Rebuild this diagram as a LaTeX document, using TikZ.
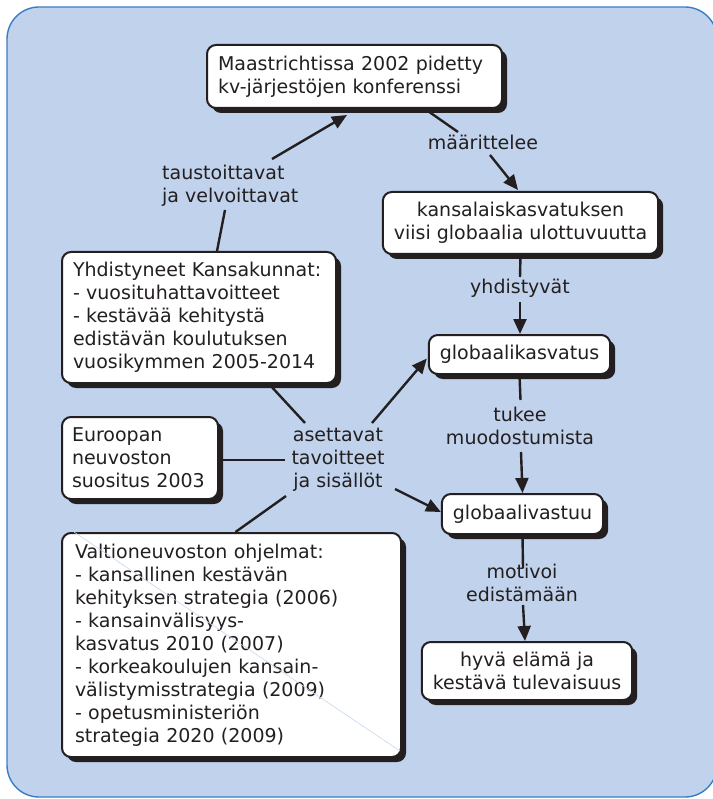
\documentclass[tikz,border=0pt]{standalone}
\usepackage{fontspec}
\setmainfont{DejaVu Sans}
\usetikzlibrary{shadows,arrows.meta}
\definecolor{ink}{HTML}{231F20}
\definecolor{panelfill}{HTML}{C1D2EC}
\definecolor{panelline}{HTML}{3B7DC4}
\definecolor{faint}{HTML}{C9D7EE}

\begin{document}
\begin{tikzpicture}[x=1pt,y=-1pt,
  every node/.style={font=\fontsize{19}{23}\selectfont, text=ink},
  box/.style={draw=ink, line width=2pt, fill=white, rounded corners=9pt,
    inner ysep=0pt, inner xsep=11pt,
    drop shadow={shadow xshift=5pt, shadow yshift=-5pt, opacity=1, fill=ink}},
  lbl/.style={inner sep=0pt, align=center},
  link/.style={draw=ink, line width=2.4pt},
  arr/.style={link, -{Triangle[length=15pt,width=13pt]}}]

\useasboundingbox (0,0) rectangle (712,799);
% background panel
\draw[panelline, fill=panelfill, line width=1.4pt, rounded corners=32pt]
  (7,7) rectangle (717,797);

% boxes
\node[box, text width=273pt, align=left, minimum height=63pt] (m) at (354.5,76.5)
  {Maastrichtissa 2002 pidetty\\kv-järjestöjen konferenssi};
\node[box, align=center, minimum width=275pt, minimum height=62pt] (k) at (520.5,223)
  {kansalaiskasvatuksen\\viisi globaalia ulottuvuutta};
\node[box, minimum width=181pt, minimum height=39pt] (gk) at (519.5,354.5)
  {globaalikasvatus};
\node[box, text width=252pt, align=left, minimum height=131pt] (yk) at (199,317.5)
  {Yhdistyneet Kansakunnat:\\- vuosituhattavoitteet\\- kestävää kehitystä\\edistävän koulutuksen\\vuosikymmen 2005-2014};
\node[box, text width=136pt, inner xsep=10pt, align=left, minimum height=82pt] (eu) at (140,458)
  {Euroopan\\neuvoston\\suositus 2003};
\node[box, minimum width=161pt, minimum height=40pt] (gv) at (522.5,514)
  {globaalivastuu};
\node[box, text width=313pt, inner xsep=13pt, align=left, minimum height=224pt] (vn) at (231.5,645)
  {Valtioneuvoston ohjelmat:\\- kansallinen kestävän\\kehityksen strategia (2006)\\- kansainvälisyys-\\kasvatus 2010 (2007)\\- korkeakoulujen kansain-\\välistymisstrategia (2009)\\- opetusministeriön\\strategia 2020 (2009)};
\node[box, align=center, minimum width=210pt, minimum height=58pt] (hy) at (527,671)
  {hyvä elämä ja\\kestävä tulevaisuus};

% thin diagonal across the programme box
\draw[faint, line width=0.6pt] ([shift={(13,0)}]vn.north west) -- ([shift={(-2,-7)}]vn.south east);

% connector labels
\node[lbl, align=left, anchor=west] (lt) at (162,186) {taustoittavat\\ja velvoittavat};
\node[lbl, anchor=base] (lm) at (483,150) {määrittelee};
\node[lbl, anchor=base] (ly) at (520,293) {yhdistyvät};
\node[lbl] (ltu) at (520,426) {tukee\\muodostumista};
\node[lbl] (lmo) at (522,583) {motivoi\\edistämään};
\node[lbl] (la) at (338,460) {asettavat\\tavoitteet\\ja sisällöt};

% connectors
\draw[arr] ([shift={(110,-27)}]lt.west) -- ([shift={(-7.5,38.5)}]m.center);
\draw[link] ([xshift=18pt]yk.north) -- ([shift={(63,24)}]lt.west);
\draw[link] ([xshift=70.5pt]m.south) -- ([shift={(-25,-18)}]lm.base);
\draw[arr] ([shift={(7,5)}]lm.base) -- ([shift={(-2.5,-1)}]k.north);
\draw[link] (k.south) -- ([shift={(0,-16)}]ly.base);
\draw[arr] ([shift={(0,9)}]ly.base) -- ([xshift=0.5pt]gk.north);
\draw[link] (gk.south) -- ([shift={(0.5,-26)}]ltu.center);
\draw[arr] ([shift={(1,26)}]ltu.center) -- (gv.north);
\draw[link] (gv.south) -- ([shift={(1,-15)}]lmo.center);
\draw[arr] ([shift={(1,22)}]lmo.center) -- ([xshift=-2pt]hy.north);
\draw[link] ([xshift=70pt]yk.south) -- ([shift={(-33,-37)}]la.center);
\draw[arr] ([shift={(34,-37)}]la.center) -- ([shift={(-1,4)}]gk.west);
\draw[link] ([yshift=-2pt]eu.east) -- ([shift={(-53,0)}]la.center);
\draw[arr] ([shift={(57,29)}]la.center) -- ([shift={(0,-2)}]gv.west);
\draw[link] ([shift={(-52,36)}]la.center) -- ([xshift=4pt]vn.north);
\end{tikzpicture}
\end{document}
